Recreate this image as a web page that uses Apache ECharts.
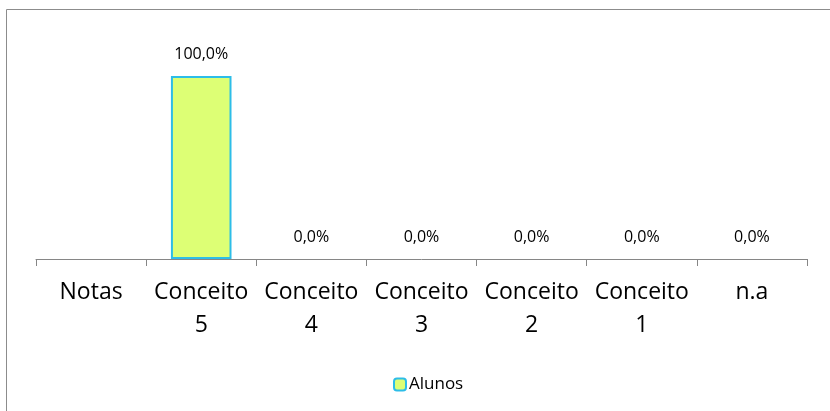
<!DOCTYPE html>
<html>
<head>
<meta charset="utf-8">
<script src="https://cdn.jsdelivr.net/npm/echarts@6/dist/echarts.min.js"></script>
<style>
  html, body { margin: 0; padding: 0; background: #fff; }
  #chart { width: 830px; height: 411px; }
</style>
</head>
<body>
<div id="chart"></div>
<script>
var categories = ['Notas', 'Conceito\n5', 'Conceito\n4', 'Conceito\n3', 'Conceito\n2', 'Conceito\n1', 'n.a'];
var alunos = [null, 100, 0, 0, 0, 0, 0];
var seriesName = 'Alunos';

window.onload = function () {
    var myChart = echarts.init(document.getElementById('chart'));
    var font = '"Open Sans", sans-serif';

    // zero bars have no visible outline in the original
    var barData = alunos.map(function (v) {
        if (v === 0) return { value: v, itemStyle: { borderWidth: 0 } };
        return v;
    });

    var option = {
        animation: false,
        textStyle: { fontFamily: font },
        graphic: [
            {
                type: 'rect',
                shape: { x: 6.5, y: 9.5, width: 900, height: 500 },
                style: { fill: 'none', stroke: '#8c8c8c', lineWidth: 1 }
            }
        ],
        grid: { left: 36, right: 23, top: 76, bottom: 152 },
        legend: {
            left: 388,
            top: 371,
            itemWidth: 12,
            itemHeight: 12,
            itemGap: 5,
            textStyle: { fontFamily: font, fontSize: 17, color: '#000', padding: [0, 0, 0, -2] },
            data: [seriesName]
        },
        xAxis: {
            type: 'category',
            data: categories,
            axisLine: { lineStyle: { color: '#868686', width: 1 } },
            axisTick: { show: true, alignWithLabel: false, length: 7, lineStyle: { color: '#868686' } },
            axisLabel: {
                interval: 0,
                color: '#000',
                fontFamily: font,
                fontSize: 23,
                lineHeight: 33,
                margin: 17
            }
        },
        yAxis: {
            type: 'value',
            min: 0,
            max: 100,
            show: false
        },
        series: [
            {
                name: seriesName,
                type: 'bar',
                data: barData,
                barWidth: '55%',
                itemStyle: { color: '#DDFF75', borderColor: '#2DBDE8', borderWidth: 2 },
                label: {
                    show: true,
                    position: 'top',
                    distance: 14,
                    color: '#000',
                    fontFamily: font,
                    fontSize: 16,
                    formatter: function (p) {
                        if (p.value == null) return '';
                        return p.value.toFixed(1).replace('.', ',') + '%';
                    }
                }
            }
        ]
    };

    myChart.setOption(option);
};
</script>
</body>
</html>
